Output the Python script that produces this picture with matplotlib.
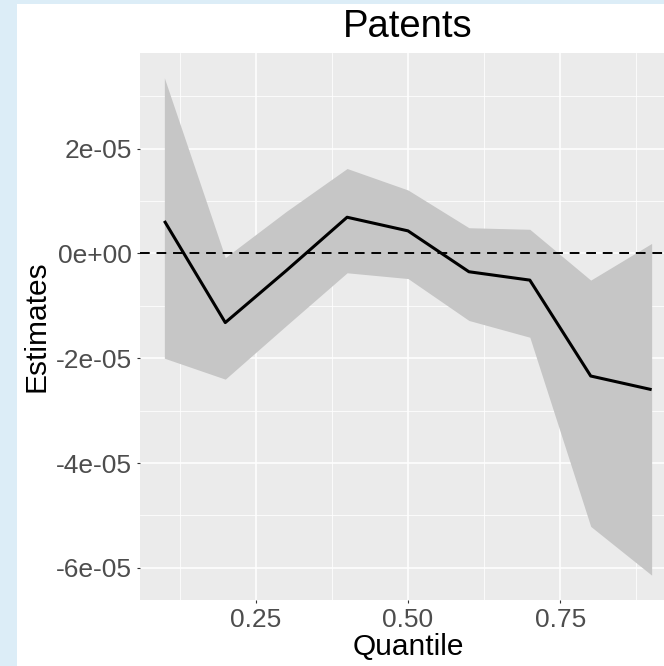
import matplotlib
matplotlib.use("Agg")
import matplotlib.pyplot as plt
from matplotlib.ticker import FixedLocator
from matplotlib.patches import Rectangle

# quantile regression estimates with confidence band
quantile = [0.1, 0.2, 0.3, 0.4, 0.5, 0.6, 0.7, 0.8, 0.9]
estimate = [6.2e-6, -1.32e-5, -3.3e-6, 6.9e-6, 4.3e-6, -3.5e-6, -5.1e-6, -2.34e-5, -2.6e-5]
upper = [3.35e-5, -8e-7, 8.0e-6, 1.62e-5, 1.21e-5, 4.9e-6, 4.6e-6, -5.1e-6, 1.9e-6]
lower = [-2.0e-5, -2.4e-5, -1.38e-5, -3.7e-6, -4.8e-6, -1.28e-5, -1.6e-5, -5.21e-5, -6.14e-5]

xticks = [0.25, 0.50, 0.75]
xticklabels = ["0.25", "0.50", "0.75"]
yticks = [-6e-5, -4e-5, -2e-5, 0.0, 2e-5]
yticklabels = ["-6e-05", "-4e-05", "-2e-05", "0e+00", "2e-05"]

plt.rcParams['font.family'] = ['Liberation Sans', 'DejaVu Sans']

W, H = 664, 666
fig = plt.figure(figsize=(W / 100, H / 100), dpi=100)
fig.patch.set_facecolor('#DCEDF7')
# white plot background inside the light blue frame
bg = Rectangle((17 / W, 0), 1, 1 - 4 / H, transform=fig.transFigure,
               facecolor='white', edgecolor='none', zorder=-10)
fig.add_artist(bg)

ax = fig.add_axes([140 / W, 66 / H, 536 / W, 547 / H])
ax.set_facecolor('#EBEBEB')

ax.fill_between(quantile, lower, upper, color='#C6C6C6', linewidth=0, zorder=2)
ax.axhline(0, color='black', linewidth=1.4, dashes=(5, 3.5), zorder=3)
ax.plot(quantile, estimate, color='black', linewidth=2.2, zorder=4,
        solid_joinstyle='round', solid_capstyle='butt')

# ggplot-like expansion of 5% on both axes
x0, x1 = min(quantile), max(quantile)
dx = (x1 - x0) * 0.05
ax.set_xlim(x0 - dx, x1 + dx)
y0, y1 = min(lower), max(upper)
dy = (y1 - y0) * 0.05
ax.set_ylim(y0 - dy, y1 + dy)

ax.xaxis.set_major_locator(FixedLocator(xticks))
ax.set_xticklabels(xticklabels)
ax.yaxis.set_major_locator(FixedLocator(yticks))
ax.set_yticklabels(yticklabels)
ax.xaxis.set_minor_locator(FixedLocator([0.125, 0.375, 0.625, 0.875]))
ax.yaxis.set_minor_locator(FixedLocator([-5e-5, -3e-5, -1e-5, 1e-5, 3e-5]))

ax.grid(which='major', color='white', linewidth=1.1, zorder=1)
ax.grid(which='minor', color='white', linewidth=0.55, zorder=1)
ax.set_axisbelow(True)
for s in ax.spines.values():
    s.set_visible(False)

ax.tick_params(which='major', length=2.5, width=0.8, color='#333333',
               labelsize=19, labelcolor='#4D4D4D', pad=3)
ax.tick_params(which='minor', length=0)

ax.set_xlabel("Quantile", fontsize=21.5, labelpad=1)
ax.set_ylabel("Estimates", fontsize=21.5, labelpad=4)
fig.text(408 / W, 1 - 37 / H, "Patents", fontsize=27.5, ha='center', va='baseline')

fig.savefig("out.png", dpi=100, facecolor=fig.get_facecolor())
